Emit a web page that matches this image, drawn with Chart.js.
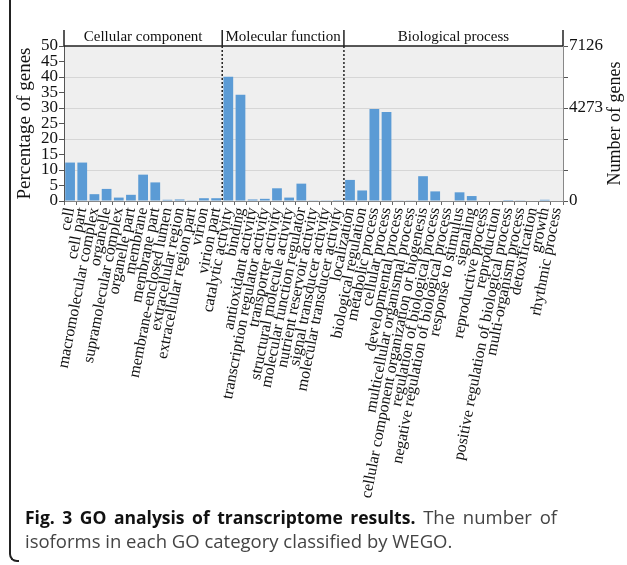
<!DOCTYPE html>
<html>
<head>
<meta charset="utf-8">
<script src="https://cdn.jsdelivr.net/npm/chart.js@4/dist/chart.umd.min.js"></script>
<style>
  html, body { margin: 0; padding: 0; background: #fff; }
  #wrap { position: relative; width: 627px; height: 565px; overflow: hidden; }
  #frame { position: absolute; left: 9px; top: -10px; width: 8px; height: 570px;
           border-left: 2.5px solid #222; border-bottom: 2px solid #222; border-bottom-left-radius: 8px; }
  #box { position: absolute; left: 0; top: 0; width: 627px; height: 505px; }
  #caption { position: absolute; left: 25px; top: 505px; width: 532px;
             font-family: 'Open Sans', sans-serif; font-size: 18.5px; line-height: 23px; color: #444; }
  #caption .l1 { text-align: justify; text-align-last: justify; white-space: nowrap; }
  #caption .l2 { white-space: nowrap; }
  #caption b { color: #111; font-size: 17.5px; }
</style>
</head>
<body>
<div id="wrap">
  <div id="frame"></div>
  <div id="box"><canvas id="go-chart" width="627" height="505"></canvas></div>
  <div id="caption">
    <div class="l1"><b>Fig. 3 GO analysis of transcriptome results.</b> The number of</div>
    <div class="l2">isoforms in each GO category classified by WEGO.</div>
  </div>
</div>
<script>
const categories = [
  'cell', 'cell part', 'macromolecular complex', 'organelle', 'supramolecular complex',
  'organelle part', 'membrane', 'membrane part', 'membrane-enclosed lumen',
  'extracellular region', 'extracellular region part', 'virion', 'virion part',
  'catalytic activity', 'binding', 'antioxidant activity', 'transcription regulator activity',
  'transporter activity', 'structural molecule activity', 'molecular function regulator',
  'nutrient reservoir activity', 'signal transducer activity', 'molecular transducer activity',
  'localization', 'biological regulation', 'metabolic process', 'cellular process',
  'developmental process', 'multicellular organismal process',
  'cellular component organization or biogenesis', 'regulation of biological process',
  'negative regulation of biological process', 'response to stimulus', 'signaling',
  'reproductive process', 'reproduction', 'positive regulation of biological process',
  'multi-organism process', 'detoxification', 'growth', 'rhythmic process'
];
const percentages = [
  12.4, 12.4, 2.2, 3.9, 1.1, 2.0, 8.5, 6.0, 0.4, 0.5, 0.1, 0.9, 0.9,
  40.1, 34.3, 0.5, 0.7, 4.1, 1.1, 5.6, 0.1, 0.1, 0.05,
  6.8, 3.4, 29.7, 28.7, 0.2, 0.2, 8.0, 3.1, 0, 2.8, 1.6, 0, 0, 0.3, 0.1, 0, 0.4, 0
];
const groupNames = ['Cellular component', 'Molecular function', 'Biological process'];
const groupSizes = [13, 10, 18];
const leftTicks = [0, 5, 10, 15, 20, 25, 30, 35, 40, 45, 50];
const rightTickLabels = ['0', '', '', '4273', '', '7126'];

const serif = 'Liberation Serif';

const groupPlugin = {
  id: 'groups',
  beforeDraw(chart) {
    const a = chart.chartArea, c = chart.ctx;
    c.save();
    c.fillStyle = '#efefef';
    c.fillRect(a.left, a.top, a.right - a.left, a.bottom - a.top);
    c.restore();
  },
  afterDraw(chart) {
    const x = chart.scales.x, a = chart.chartArea, c = chart.ctx;
    const half = (x.getPixelForValue(1) - x.getPixelForValue(0)) / 2;
    const edges = [0];
    groupSizes.forEach(n => edges.push(edges[edges.length - 1] + n));
    const px = edges.map(e => e < categories.length ? x.getPixelForValue(e) - half
                                                  : x.getPixelForValue(e - 1) + half);
    c.save();
    c.strokeStyle = '#222';
    c.lineWidth = 1.5;
    c.beginPath();
    c.moveTo(px[0], a.top); c.lineTo(px[px.length - 1], a.top);
    px.forEach(p => { c.moveTo(p, a.top - 16); c.lineTo(p, a.top); });
    c.stroke();
    c.setLineDash([2, 2]);
    c.beginPath();
    px.slice(1, -1).forEach(p => { c.moveTo(p, a.top); c.lineTo(p, a.bottom); });
    c.stroke();
    c.setLineDash([]);
    c.fillStyle = '#111';
    c.font = '15px ' + serif;
    c.textAlign = 'center';
    c.textBaseline = 'alphabetic';
    groupNames.forEach((g, i) => c.fillText(g, (px[i] + px[i + 1]) / 2, a.top - 5));
    // right axis title reads bottom-to-top like the left one
    c.translate(615, (a.top + a.bottom) / 2);
    c.rotate(-Math.PI / 2);
    c.font = '18px ' + serif;
    c.textBaseline = 'middle';
    c.fillText('Number of genes', 0, 0);
    c.restore();
  }
};

new Chart(document.getElementById('go-chart'), {
  type: 'bar',
  data: {
    labels: categories,
    datasets: [{
      label: 'Percentage of genes',
      data: percentages,
      backgroundColor: '#5b9bd5',
      categoryPercentage: 1,
      barPercentage: 0.8,
      yAxisID: 'y'
    }]
  },
  options: {
    responsive: false,
    animation: false,
    layout: { padding: { top: 46 } },
    plugins: {
      legend: { display: false },
      tooltip: { enabled: false }
    },
    scales: {
      x: {
        afterFit(s) { s.height = 304; },
        grid: { drawOnChartArea: false, offset: true, tickLength: 4, color: '#666' },
        border: { color: '#888' },
        ticks: {
          autoSkip: false, minRotation: 79, maxRotation: 79, padding: 1,
          color: '#111', font: { family: serif, size: 16 }
        }
      },
      y: {
        position: 'left',
        min: 0, max: 50,
        afterFit(s) { s.width = 64; },
        afterBuildTicks(s) { s.ticks = leftTicks.map(v => ({ value: v })); },
        grid: {
          color: ctx => (ctx.tick && ctx.tick.value % 10 === 0 && ctx.tick.value > 0 && ctx.tick.value < 50) ? '#d6d6d6' : 'rgba(0,0,0,0)',
          tickColor: '#555', tickLength: 5
        },
        border: { color: '#555' },
        ticks: { autoSkip: false, padding: 1, color: '#111', font: { family: serif, size: 17, lineHeight: 1 } },
        title: {
          display: true, text: 'Percentage of genes', color: '#111',
          font: { family: serif, size: 19 }, padding: { top: 14, bottom: 0 }
        }
      },
      y1: {
        position: 'right',
        min: 0, max: 50,
        afterFit(s) { s.width = 64; },
        afterBuildTicks(s) { s.ticks = rightTickLabels.map((t, i) => ({ value: i * 10 })); },
        grid: { drawOnChartArea: false, color: '#555', tickLength: 5 },
        border: { color: '#888' },
        ticks: {
          autoSkip: false, padding: 1, color: '#111', font: { family: serif, size: 17 },
          callback: (v, i) => rightTickLabels[i]
        }
      }
    }
  },
  plugins: [groupPlugin]
});
</script>
</body>
</html>
